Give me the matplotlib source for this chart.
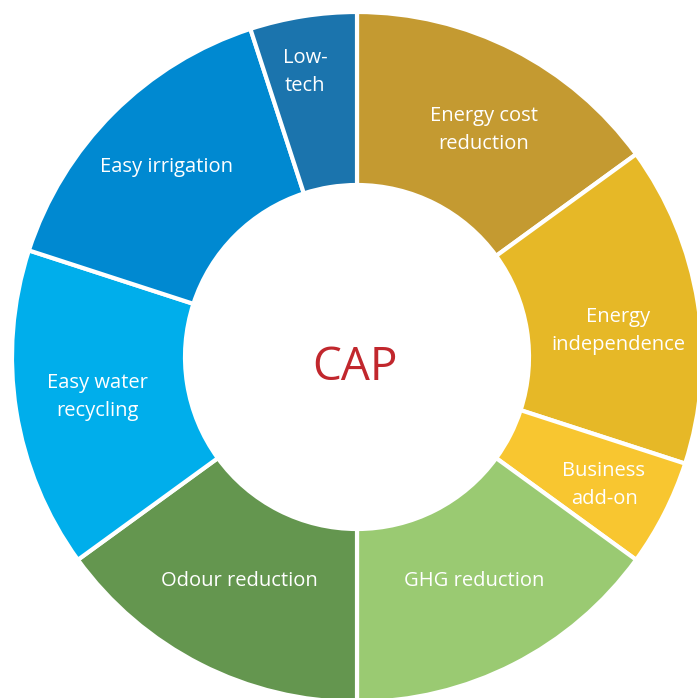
import matplotlib
matplotlib.use("Agg")
import matplotlib.pyplot as plt
import numpy as np

labels = ["Energy cost\nreduction", "Energy\nindependence", "Business\nadd-on", "GHG reduction",
          "Odour reduction", "Easy water\nrecycling", "Easy irrigation", "Low-\ntech"]
values = [15, 15, 5, 15, 15, 15, 15, 5]
colors = ["#C49A31", "#E6B827", "#F8C630", "#9ACA72", "#64964F", "#00AEEB", "#0089D1", "#1B74AD"]
center_text = "CAP"

R = 345
W = 173
# label centre offsets from the donut centre (pixels)
label_pos = [(127, 227), (261, 26), (247, -128), (117, -224),
             (-118, -224), (-260, -40), (-190, 190), (-52, 285)]

fig = plt.figure(figsize=(6.97, 6.98), dpi=100)
ax = fig.add_axes([0, 0, 1, 1])

wedges, _ = ax.pie(values, colors=colors, startangle=90, counterclock=False, radius=R,
                   wedgeprops=dict(width=W, edgecolor="white", linewidth=3))
ax.set_xlim(-357, 340)
ax.set_ylim(-341, 357)
ax.set_aspect("equal")
ax.axis("off")

for lab, (x, y) in zip(labels, label_pos):
    ax.text(x, y, lab, ha="center", va="center", color="white", fontsize=14.5,
            family="Open Sans", linespacing=1.5)

ax.text(-2, -23, center_text, ha="center", va="baseline", color="#C1272D", fontsize=33,
        family="Open Sans")

fig.savefig("out.png", dpi=100)
